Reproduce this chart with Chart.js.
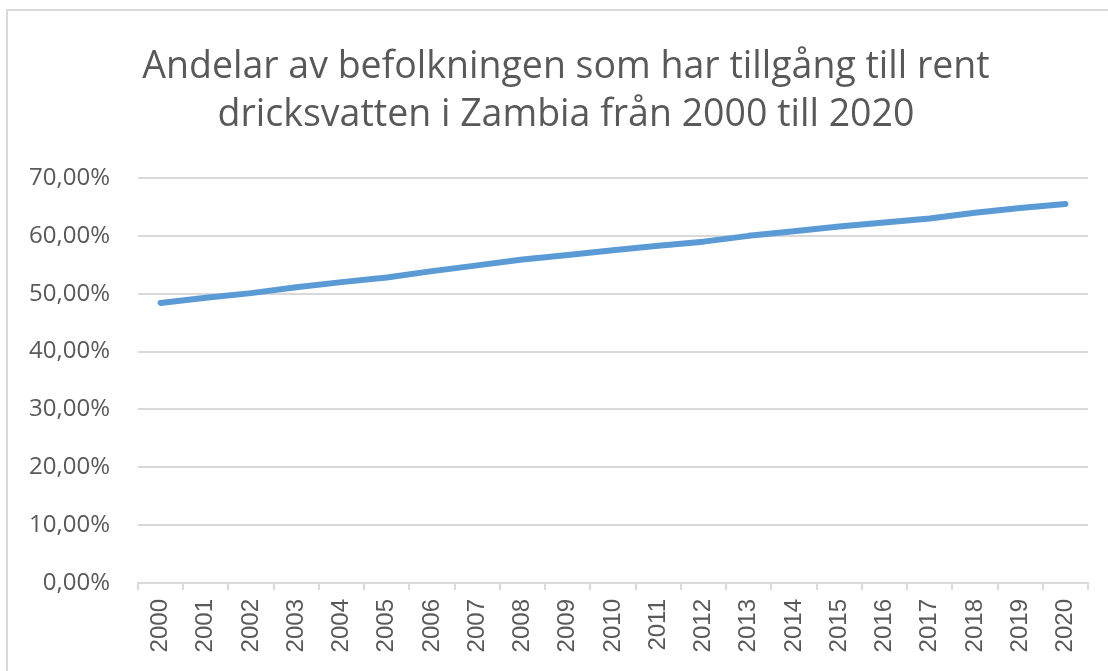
<!DOCTYPE html>
<html>
<head>
<meta charset="utf-8">
<script src="https://cdn.jsdelivr.net/npm/chart.js@4"></script>
<style>
  html, body { margin: 0; padding: 0; background: #fff; overflow: hidden; }
  #frame { position: absolute; left: 6px; top: 9px; width: 1130px; height: 700px; border: 2px solid #d9d9d9; }
  #wrap { position: absolute; left: 0; top: 0; width: 1108px; height: 671px; }
</style>
</head>
<body>
<div id="frame"></div>
<div id="wrap"><canvas id="myChart"></canvas></div>
<script>
const years = ["2000", "2001", "2002", "2003", "2004", "2005", "2006", "2007", "2008", "2009", "2010",
   "2011", "2012", "2013", "2014", "2015", "2016", "2017", "2018", "2019", "2020"];
// andel i procent
const shares = [48.4, 49.3, 50.1, 51.1, 52.0, 52.8, 53.9, 54.9, 55.9, 56.7, 57.5,
   58.3, 59.0, 60.0, 60.8, 61.6, 62.3, 63.0, 64.0, 64.8, 65.5];
const yTicks = [0, 10, 20, 30, 40, 50, 60, 70];
const titleLines = ["Andelar av befolkningen som har tillgång till rent", "dricksvatten i Zambia från 2000 till 2020"];

const grey = "#595959";
const gridGrey = "#d9d9d9";

// titeln ritas själv för att kunna centreras som i Excel-bilden (x = 566)
const titlePlugin = {
   id: "excelTitle",
   afterDraw(chart) {
      const c = chart.ctx;
      c.save();
      c.fillStyle = grey;
      c.font = "37.5px 'Open Sans'";
      c.textAlign = "center";
      c.textBaseline = "middle";
      titleLines.forEach(function (line, i) {
         c.fillText(line, 566, 67 + i * 48);
      });
      c.restore();
   },
};

const ctx = document.getElementById("myChart");
const myChart = new Chart(ctx, {
   type: "line",
   data: {
      labels: years,
      datasets: [
         {
            label: "Andel",
            data: shares,
            borderColor: "#5b9bd5",
            borderWidth: 6,
            borderCapStyle: "round",
            borderJoinStyle: "round",
            pointRadius: 0,
            tension: 0,
            fill: false,
         },
      ],
   },
   plugins: [titlePlugin],
   options: {
      responsive: true,
      maintainAspectRatio: false,
      animation: false,
      devicePixelRatio: 1,
      layout: {
         padding: { left: 0, right: 20, top: 178, bottom: 0 },
      },
      plugins: {
         legend: { display: false },
         tooltip: { enabled: false },
         title: { display: false },
      },
      scales: {
         x: {
            type: "category",
            offset: true,
            afterFit: function (scale) {
               scale.height = 88;
            },
            grid: {
               offset: true,
               drawOnChartArea: false,
               drawTicks: true,
               tickLength: 7,
               color: gridGrey,
               lineWidth: 2,
            },
            border: { display: true, color: gridGrey, width: 2 },
            ticks: {
               color: grey,
               minRotation: 90,
               maxRotation: 90,
               autoSkip: false,
               padding: 9,
               font: { family: "'Liberation Sans'", size: 24 },
            },
         },
         y: {
            min: 0,
            max: 70,
            afterFit: function (scale) {
               scale.width = 138;
            },
            afterBuildTicks: function (scale) {
               scale.ticks = yTicks.map(function (v) { return { value: v }; });
            },
            grid: {
               color: gridGrey,
               lineWidth: 2,
               drawTicks: false,
            },
            border: { display: false },
            ticks: {
               color: grey,
               padding: 28,
               font: { family: "'Open Sans'", size: 24 },
               callback: function (value) {
                  return value.toFixed(2).replace(".", ",") + "%";
               },
            },
         },
      },
   },
});
</script>
</body>
</html>
